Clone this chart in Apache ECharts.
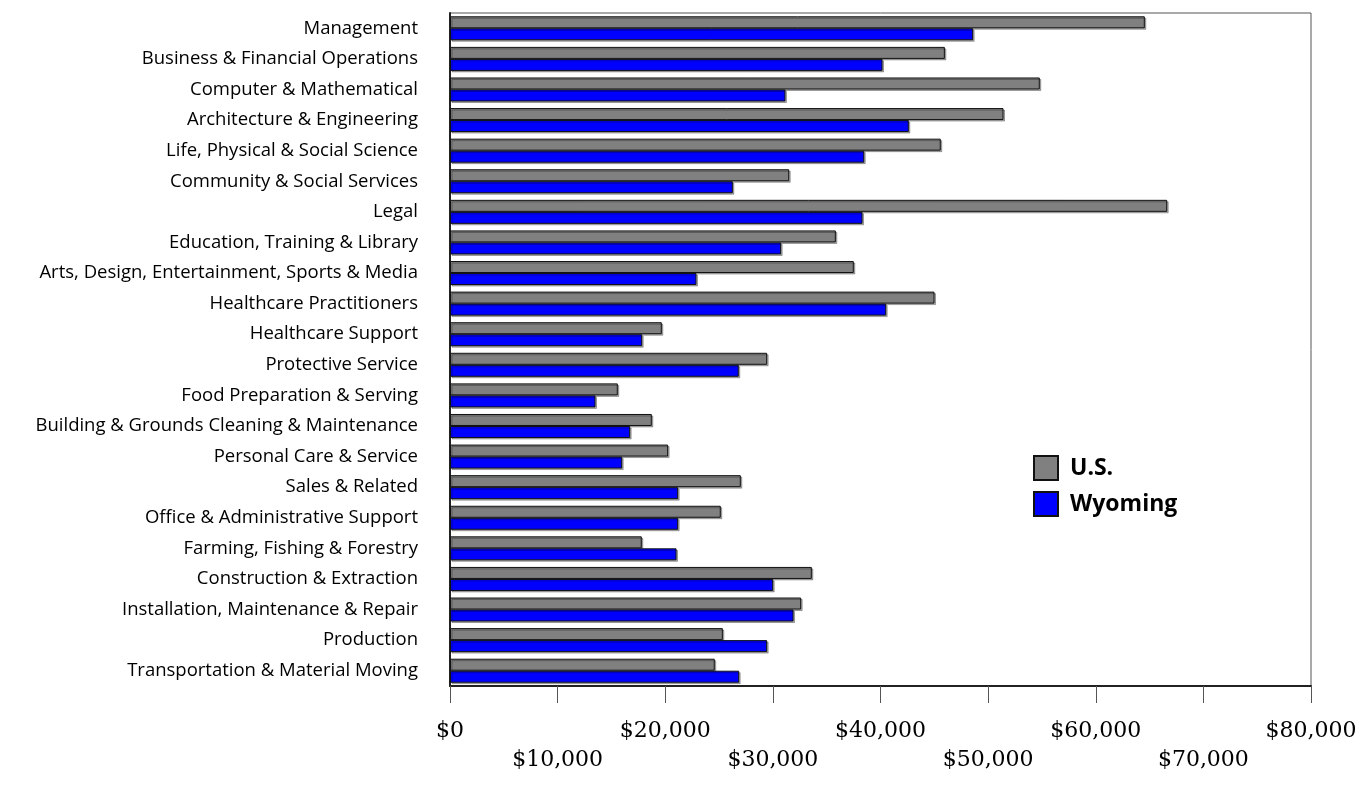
<!DOCTYPE html>
<html>
<head>
<meta charset="utf-8">
<script src="https://cdn.jsdelivr.net/npm/echarts@6/dist/echarts.min.js"></script>
<style>
  html, body { margin: 0; padding: 0; background: #fff; }
  #chart { width: 1364px; height: 785px; }
</style>
</head>
<body>
<div id="chart"></div>
<script>
// occupations, top to bottom
const categories = [
  "Management",
  "Business & Financial Operations",
  "Computer & Mathematical",
  "Architecture & Engineering",
  "Life, Physical & Social Science",
  "Community & Social Services",
  "Legal",
  "Education, Training & Library",
  "Arts, Design, Entertainment, Sports & Media",
  "Healthcare Practitioners",
  "Healthcare Support",
  "Protective Service",
  "Food Preparation & Serving",
  "Building & Grounds Cleaning & Maintenance",
  "Personal Care & Service",
  "Sales & Related",
  "Office & Administrative Support",
  "Farming, Fishing & Forestry",
  "Construction & Extraction",
  "Installation, Maintenance & Repair",
  "Production",
  "Transportation & Material Moving"
];

// mean annual wages
const usWages = [64560, 45980, 54800, 51430, 45600, 31520, 66640, 35850, 37520, 45020, 19680,
  29470, 15590, 18750, 20270, 27020, 25160, 17820, 33620, 32630, 25350, 24600];
const wyomingWages = [48610, 40190, 31170, 42630, 38490, 26280, 38330, 30770, 22900, 40530, 17860,
  26830, 13520, 16740, 16000, 21200, 21200, 21050, 30030, 31920, 29470, 26870];

const seriesNames = ["U.S.", "Wyoming"];
const xTicks = [0, 10000, 20000, 30000, 40000, 50000, 60000, 70000, 80000];

const labelFont = "'Open Sans', Lato, sans-serif";
const tickFont = "'DejaVu Serif', 'Liberation Serif', serif";

const chart = echarts.init(document.getElementById("chart"));

const barStyle = function (color) {
  return {
    color: color,
    borderColor: "#111",
    borderWidth: 1,
    shadowColor: "rgba(0,0,0,0.3)",
    shadowOffsetX: 1.5,
    shadowOffsetY: 1.5,
    shadowBlur: 0
  };
};

chart.setOption({
  animation: false,
  backgroundColor: "#fff",
  grid: {
    left: 450,
    right: 53,
    top: 13,
    bottom: 99,
    show: true,
    borderColor: "#555",
    borderWidth: 1
  },
  legend: {
    orient: "vertical",
    left: 1028,
    top: 450,
    itemWidth: 24,
    itemHeight: 24,
    itemGap: 10,
    icon: "rect",
    data: seriesNames,
    textStyle: {
      fontFamily: labelFont,
      fontWeight: "bold",
      fontSize: 23,
      lineHeight: 24,
      color: "#000",
      padding: [0, 0, 0, 7]
    }
  },
  xAxis: {
    type: "value",
    min: xTicks[0],
    max: xTicks[xTicks.length - 1],
    interval: 10000,
    splitLine: { show: false },
    axisLine: { show: true, lineStyle: { color: "#222", width: 2 } },
    axisTick: { show: true, length: 17, lineStyle: { color: "#555" } },
    axisLabel: {
      margin: 31,
      fontFamily: tickFont,
      fontSize: 22,
      lineHeight: 29,
      color: "#000",
      formatter: function (v) {
        const i = xTicks.indexOf(v);
        const s = "$" + v.toLocaleString("en-US");
        return i % 2 === 1 ? "\n" + s : s;
      }
    }
  },
  yAxis: {
    type: "category",
    inverse: true,
    data: categories,
    axisLine: { show: true, lineStyle: { color: "#222", width: 2 } },
    axisTick: { show: false },
    axisLabel: {
      margin: 32,
      fontFamily: labelFont,
      fontSize: 18.5,
      color: "#000"
    }
  },
  series: [
    {
      name: seriesNames[0],
      type: "bar",
      data: usWages,
      barWidth: 12,
      barGap: "0%",
      itemStyle: barStyle("#808080")
    },
    {
      name: seriesNames[1],
      type: "bar",
      data: wyomingWages,
      barWidth: 12,
      barGap: "0%",
      itemStyle: barStyle("#0000ff")
    }
  ]
});
</script>
</body>
</html>
